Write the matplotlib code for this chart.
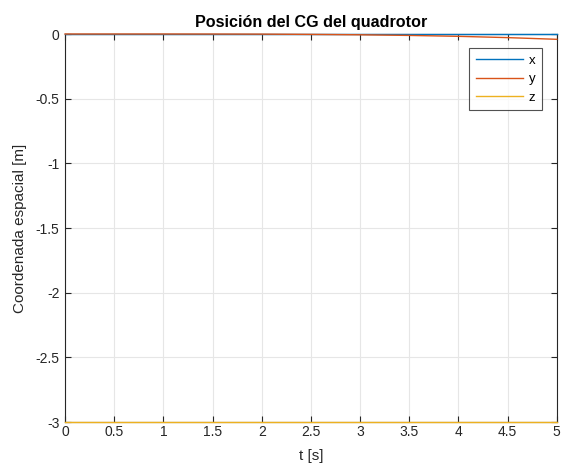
import numpy as np
import matplotlib.pyplot as plt

plt.rcParams['font.family'] = ['Liberation Sans', 'DejaVu Sans']

t = [0.0, 0.5, 1.0, 1.5, 2.0, 2.5, 3.0, 3.5, 4.0, 4.5, 5.0]
pos_x = [0.0, 0.0, 0.0, 0.0, 0.0, 0.0, 0.0, 0.0, 0.0, 0.0, 0.0]
pos_y = [0.0, 0.0, 0.0, -0.0003, -0.001, -0.003, -0.006, -0.011, -0.018, -0.028, -0.041]
pos_z = [-3.0, -3.0, -3.0, -3.0, -3.0, -3.0, -3.0, -3.0, -3.0, -3.0, -3.0]

xticks = [0, 0.5, 1, 1.5, 2, 2.5, 3, 3.5, 4, 4.5, 5]
yticks = [-3, -2.5, -2, -1.5, -1, -0.5, 0]

fig = plt.figure(figsize=(5.63, 4.69), dpi=100)
ax = fig.add_axes([0.1155, 0.1002, 0.8735, 0.8273])

ax.plot(t, pos_x, color='#0072BD', lw=1.0, label='x', clip_on=False, zorder=3)
ax.plot(t, pos_y, color='#D95319', lw=1.0, label='y', clip_on=False, zorder=3)
ax.plot(t, pos_z, color='#EDB120', lw=1.0, label='z', clip_on=False, zorder=3)

ax.set_xlim(0, 5)
ax.set_ylim(-3, 0)
ax.set_xticks(xticks)
ax.set_xticklabels([f'{v:g}' for v in xticks])
ax.set_yticks(yticks)
ax.set_yticklabels([f'{v:g}' for v in yticks])

ax.grid(True, color='#e6e6e6', lw=0.8)
ax.set_axisbelow(True)
ax.tick_params(direction='in', top=True, right=True, length=4, width=0.8,
               colors='#262626', labelsize=10)
ax.tick_params(axis='x', pad=2)
ax.tick_params(axis='y', pad=4)
for s in ax.spines.values():
    s.set_color('#262626')
    s.set_linewidth(0.8)

ax.set_title('Posición del CG del quadrotor', fontsize=11.6, fontweight='bold', pad=5)
ax.set_xlabel('t [s]', fontsize=11, color='#262626', labelpad=7)
ax.set_ylabel('Coordenada espacial [m]', fontsize=11, color='#262626', labelpad=6)

leg = ax.legend(loc='upper right', bbox_to_anchor=(0.9695, 0.964), fontsize=9.5,
                frameon=True, fancybox=False, handlelength=3.6, handletextpad=0.4,
                borderpad=0.5, labelspacing=0.47, borderaxespad=0)
leg.get_frame().set_edgecolor('#262626')
leg.get_frame().set_linewidth(0.8)
for txt in leg.get_texts():
    txt.set_ha('right')

fig.savefig('out.png', dpi=100)
